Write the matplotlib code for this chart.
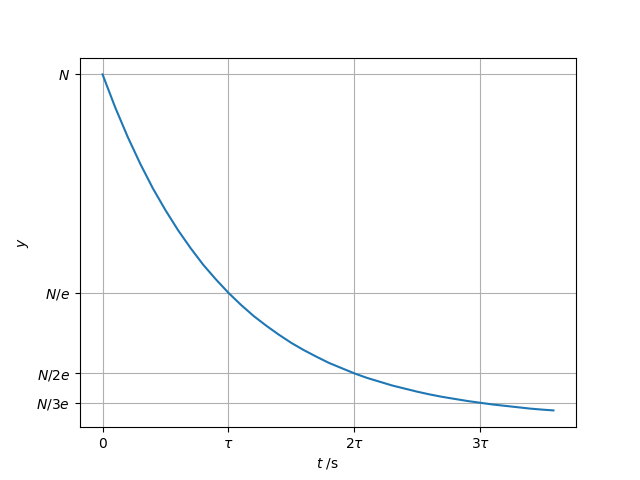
import numpy as np
import matplotlib.pyplot as plt

# time in units of tau (fraction of N)
t = [0.0, 0.1, 0.2, 0.3, 0.4, 0.5, 0.6, 0.7, 0.8, 0.9, 1.0,
     1.1, 1.2, 1.3, 1.4, 1.5, 1.6, 1.7, 1.8, 1.9, 2.0,
     2.1, 2.2, 2.3, 2.4, 2.5, 2.6, 2.7, 2.8, 2.9, 3.0,
     3.1, 3.2, 3.3, 3.4, 3.5, 3.58]
y = [1.0, 0.905, 0.819, 0.741, 0.670, 0.607, 0.549, 0.497, 0.449, 0.407, 0.368,
     0.333, 0.301, 0.273, 0.247, 0.223, 0.202, 0.183, 0.165, 0.150, 0.135,
     0.122, 0.111, 0.100, 0.091, 0.082, 0.074, 0.067, 0.061, 0.055, 0.050,
     0.045, 0.041, 0.037, 0.033, 0.030, 0.028]

xtick_pos = [0, 1, 2, 3]
xtick_labels = ['0', r'$\tau$', r'$2\tau$', r'$3\tau$']
ytick_pos = [1.0, 0.368, 0.135, 0.050]
ytick_labels = [r'$N$', r'$N/e$', r'$N/2e$', r'$N/3e$']

fig, ax = plt.subplots(figsize=(6.4, 4.8), dpi=100)
ax.plot(t, y)
ax.set_xticks(xtick_pos)
ax.set_xticklabels(xtick_labels)
ax.set_yticks(ytick_pos)
ax.set_yticklabels(ytick_labels)
ax.set_xlabel(r'$t$ /s')
ax.set_ylabel(r'$y$')
ax.grid()

plt.savefig('out.png', dpi=100)
